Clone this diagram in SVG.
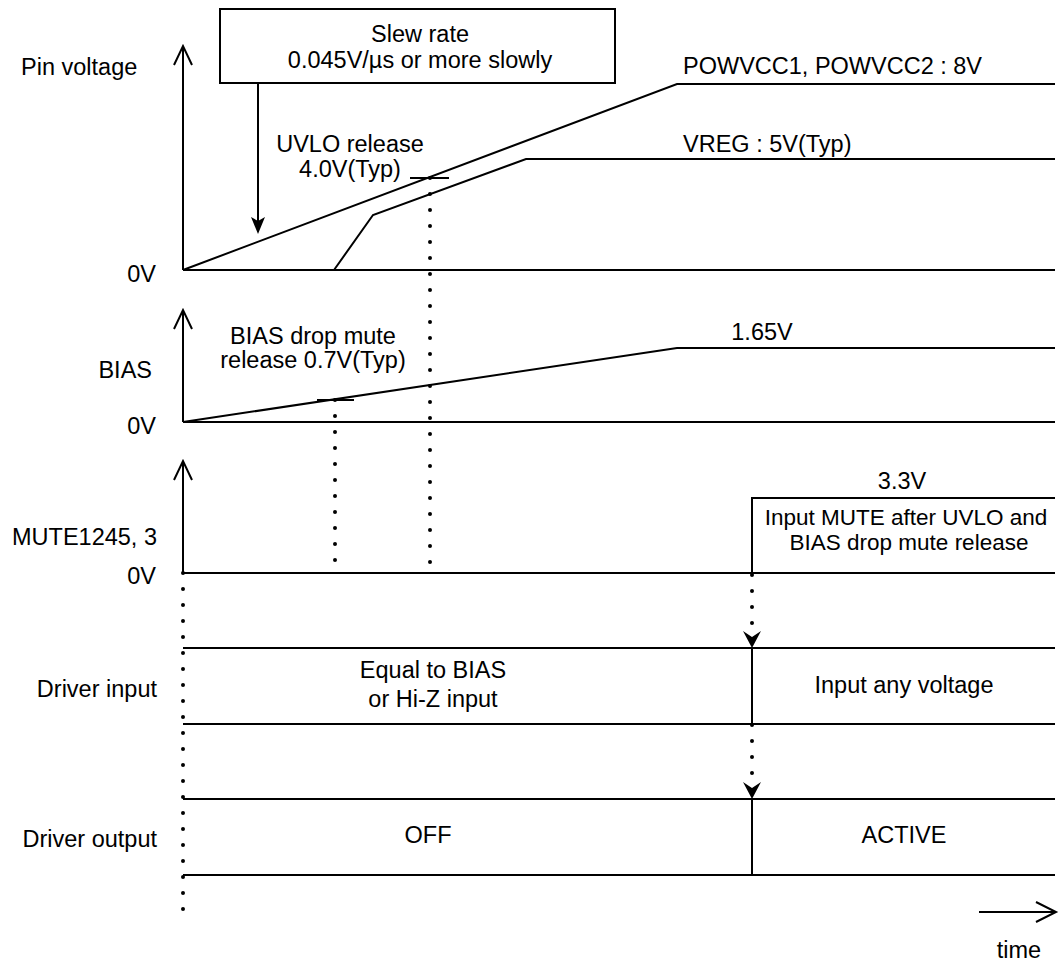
<svg xmlns="http://www.w3.org/2000/svg" width="1063" height="964" viewBox="0 0 1063 964">
<style>
.ln{fill:none;stroke:#000;stroke-width:2}
.dot{fill:none;stroke:#000;stroke-width:4;stroke-linecap:round;stroke-dasharray:0 16}
.t{font-family:"Liberation Sans",Arial,sans-serif;font-size:23.5px;fill:#000}
.s{font-size:22.5px}
.m{text-anchor:middle}
.e{text-anchor:end}
.ah{fill:#000;stroke:none}
</style>
<rect width="1063" height="964" fill="#fff"/>
<g id="labels">
<text class="t" x="21" y="75">Pin voltage</text>
<text class="t e" x="156" y="282">0V</text>
<text class="t e" x="152" y="378">BIAS</text>
<text class="t e" x="156" y="434">0V</text>
<text class="t e" x="157" y="545">MUTE1245, 3</text>
<text class="t e" x="156" y="584">0V</text>
<text class="t e" x="157" y="697">Driver input</text>
<text class="t e" x="157" y="847">Driver output</text>
</g>
<g id="axes">
<path class="ln" d="M183,46 V270 M174,65 L183,46 L192,65"/>
<path class="ln" d="M183,310 V422 M174,329 L183,310 L192,329"/>
<path class="ln" d="M183,461 V573 M174,480 L183,461 L192,480"/>
</g>
<g id="slew-box">
<rect class="ln" x="220" y="9" width="395" height="74" fill="#fff"/>
<text class="t m" x="420" y="42">Slew rate</text>
<text class="t m" x="420" y="68">0.045V/µs or more slowly</text>
</g>
<g id="pin-voltage">
<path class="ln" d="M183,270 H1055"/>
<path class="ln" d="M183,270 L677,84 H1055"/>
<path class="ln" d="M334,270 L373,215 L526,159 H1055"/>
<path class="ln" d="M410,178 H449"/>
<text class="t" x="683" y="74">POWVCC1, POWVCC2 : 8V</text>
<text class="t" x="683" y="152">VREG : 5V(Typ)</text>
<text class="t m" x="350" y="152">UVLO release</text>
<text class="t m" x="350" y="177">4.0V(Typ)</text>
</g>
<g id="bias">
<path class="ln" d="M183,422 H1055"/>
<path class="ln" d="M183,422 L677,348 H1055"/>
<path class="ln" d="M317,400 H354"/>
<text class="t m" x="313" y="344">BIAS drop mute</text>
<text class="t m" x="313" y="368">release 0.7V(Typ)</text>
<text class="t m" x="762" y="340">1.65V</text>
</g>
<g id="mute">
<path class="ln" d="M183,573 H1055 M752,573 V498 H1055"/>
<text class="t m" x="902" y="489">3.3V</text>
<text class="t s m" x="906" y="525">Input MUTE after UVLO and</text>
<text class="t s m" x="909" y="550">BIAS drop mute release</text>
</g>
<g id="driver-input">
<path class="ln" d="M183,648 H1055 M183,724 H1055 M752,648 V724"/>
<text class="t m" x="433" y="678">Equal to BIAS</text>
<text class="t m" x="433" y="707">or Hi-Z input</text>
<text class="t m" x="904" y="693">Input any voltage</text>
</g>
<g id="driver-output">
<path class="ln" d="M183,799 H1055 M183,875 H1055 M752,799 V875"/>
<text class="t m" x="428" y="843">OFF</text>
<text class="t m" x="904" y="843">ACTIVE</text>
</g>
<g id="time">
<path class="ln" d="M979,912 H1056 M1036,902 L1056,912 L1036,922"/>
<text class="t m" x="1019" y="958">time</text>
</g>
<g id="connectors">
<path class="ln" d="M258,83 V222"/>
<path class="ah" d="M258,234 L251,217 L258,221 L265,217 Z"/>
<path class="dot" d="M430,178 V563"/>
<path class="dot" d="M335,400 V561"/>
<path class="dot" d="M183,573 V910"/>
<path class="dot" d="M752,575 V624"/>
<path class="ah" d="M752,648 L743,631 L752,637 L761,631 Z"/>
<path class="dot" d="M752,725 V774"/>
<path class="ah" d="M752,799 L743,782 L752,788 L761,782 Z"/>
</g>
</svg>
